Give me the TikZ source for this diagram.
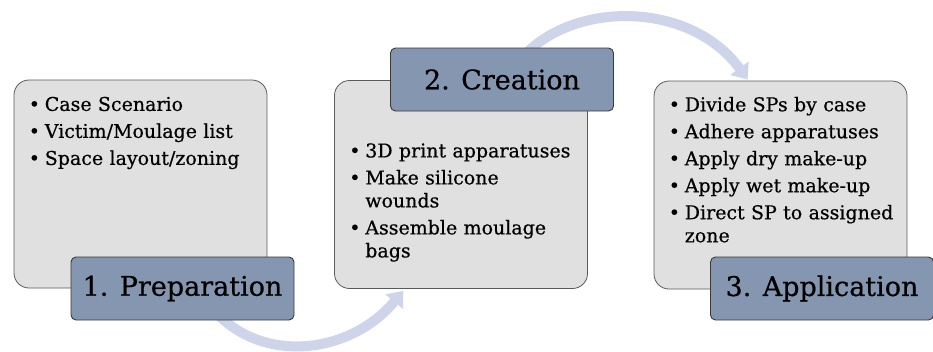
\documentclass[tikz,border=0pt]{standalone}
\usepackage{fontspec}
\setmainfont{DejaVu Serif}
\usetikzlibrary{arrows.meta,calc}
\definecolor{boxfill}{HTML}{E0E0E0}
\definecolor{boxline}{HTML}{5A5A5A}
\definecolor{labfill}{HTML}{8496B0}
\definecolor{labline}{HTML}{3A3A3A}
\definecolor{arc}{HTML}{CED4EA}
\newcommand{\bitem}[1]{\hangindent=16pt\hangafter=1\noindent\makebox[16pt][l]{•}#1\par}
\tikzset{
  graybox/.style={draw=boxline, line width=0.8pt, fill=boxfill, rounded corners=15pt, minimum width=253pt, minimum height=208pt, inner sep=0pt},
  labbox/.style={draw=labline, line width=0.9pt, fill=labfill, rounded corners=5pt, minimum width=223pt, minimum height=63pt, inner sep=0pt, font=\fontsize{27}{30}\selectfont\addfontfeature{FakeBold=0.6}},
  listtext/.style={anchor=north west, inner sep=0pt, text width=240pt, align=left, font=\fontsize{19}{23}\selectfont\addfontfeature{FakeBold=0.5}},
  flow/.style={draw=arc, line width=10pt, -{Triangle[width=22pt,length=14pt]}}
}
\begin{document}
\begin{tikzpicture}[x=1pt,y=-1pt]
\useasboundingbox (0,0) rectangle (933,351);
% boxes
\node[graybox] (b1) at (140.5,184) {};
\node[graybox] (b2) at (461,184.5) {};
\node[graybox] (b3) at (780.5,185) {};
% arcs
\coordinate (s1) at ($(b1.south east)+(-55,20)$);
\coordinate (e1) at ($(b2.south west)+(69,2)$);
\draw[flow] (s1) .. controls (260,365) and (350,355) .. (e1);
\coordinate (s2) at ($(b2.north)+(59,-20)$);
\coordinate (e2) at ($(b3.north west)+(94,-1)$);
\draw[flow] (s2) .. controls (570,0) and (690,0) .. (e2);
% labels
\node[labbox] (l1) at (182.5,288.5) {1. Preparation};
\node[labbox] (l2) at (502,79.5) {2. Creation};
\node[labbox] (l3) at (822,288.5) {3. Application};
% texts
\node[listtext] (t1) at ($(b1.north west)+(15,17)$) {%
\bitem{Case Scenario}\vspace{4pt}
\bitem{Victim/Moulage list}\vspace{4pt}
\bitem{Space layout/zoning}};
\node[listtext] (t2) at ($(b2.north west)+(15,63)$) {%
\bitem{3D print apparatuses}\vspace{4pt}
\bitem{Make silicone\newline wounds}\vspace{4pt}
\bitem{Assemble moulage\newline bags}};
\node[listtext] (t3) at ($(b3.north west)+(15,16)$) {%
\bitem{Divide SPs by case}\vspace{4pt}
\bitem{Adhere apparatuses}\vspace{4pt}
\bitem{Apply dry make-up}\vspace{4pt}
\bitem{Apply wet make-up}\vspace{4pt}
\bitem{Direct SP to assigned\newline zone}};
\end{tikzpicture}
\end{document}
